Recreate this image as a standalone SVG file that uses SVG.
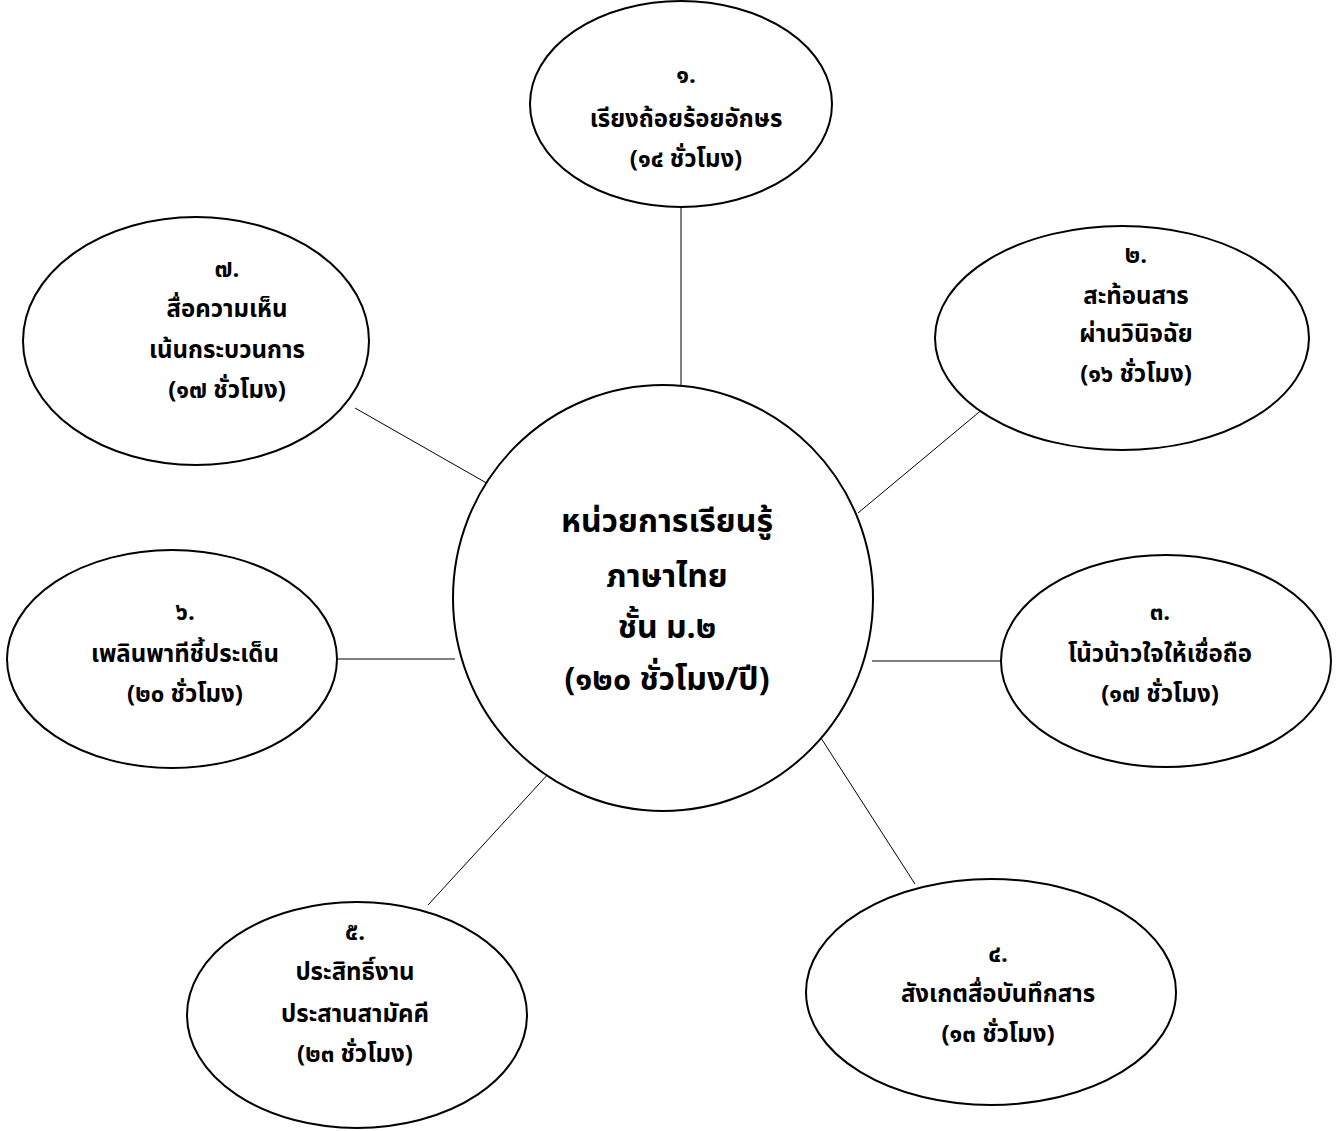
<svg xmlns="http://www.w3.org/2000/svg" width="1337" height="1131" viewBox="0 0 1337 1131">
<style>
.n{fill:#fff;stroke:#000;stroke-width:2}
.c line{stroke:#000;stroke-width:1}
text{font-family:"Noto Sans Thai","Noto Sans","DejaVu Sans",sans-serif;font-weight:bold;font-size:24px;fill:#000;text-anchor:middle}
.big{font-size:32px}
</style>
<rect width="1337" height="1131" fill="#fff"/>
<g id="connectors" class="c">
<line x1="681" y1="207" x2="681" y2="405"/>
<line x1="990" y1="403" x2="858" y2="513"/>
<line x1="872" y1="661" x2="1001" y2="661"/>
<line x1="821" y1="738" x2="915" y2="884"/>
<line x1="550" y1="772" x2="428" y2="905"/>
<line x1="337" y1="659" x2="455" y2="659"/>
<line x1="355" y1="408" x2="490" y2="485"/>
</g>
<g id="center">
<ellipse class="n" cx="663" cy="598" rx="210" ry="213"/>
<text class="big" x="667" y="532">หน่วยการเรียนรู้</text>
<text class="big" x="667" y="587">ภาษาไทย</text>
<text class="big" x="667" y="638">ชั้น ม.๒</text>
<text class="big" x="667" y="690">(๑๒๐ ชั่วโมง/ปี)</text>
</g>
<g id="node1">
<ellipse class="n" cx="681" cy="104" rx="151" ry="103"/>
<text x="686" y="83">๑.</text>
<text x="686" y="127">เรียงถ้อยร้อยอักษร</text>
<text x="686" y="167">(๑๔ ชั่วโมง)</text>
</g>
<g id="node2">
<ellipse class="n" cx="1122" cy="338" rx="187" ry="112"/>
<text x="1136" y="263">๒.</text>
<text x="1136" y="304">สะท้อนสาร</text>
<text x="1136" y="342">ผ่านวินิจฉัย</text>
<text x="1136" y="382">(๑๖ ชั่วโมง)</text>
</g>
<g id="node3">
<ellipse class="n" cx="1166" cy="661" rx="165" ry="106"/>
<text x="1160" y="620">๓.</text>
<text x="1160" y="662">โน้วน้าวใจให้เชื่อถือ</text>
<text x="1160" y="702">(๑๗ ชั่วโมง)</text>
</g>
<g id="node4">
<ellipse class="n" cx="991" cy="992" rx="185" ry="113"/>
<text x="998" y="962">๔.</text>
<text x="998" y="1002">สังเกตสื่อบันทึกสาร</text>
<text x="998" y="1042">(๑๓ ชั่วโมง)</text>
</g>
<g id="node5">
<ellipse class="n" cx="357" cy="1015" rx="170" ry="113"/>
<text x="355" y="940">๕.</text>
<text x="355" y="980">ประสิทธิ์งาน</text>
<text x="355" y="1022">ประสานสามัคคี</text>
<text x="355" y="1062">(๒๓ ชั่วโมง)</text>
</g>
<g id="node6">
<ellipse class="n" cx="172" cy="659" rx="165" ry="109"/>
<text x="185" y="620">๖.</text>
<text x="185" y="662">เพลินพาทีชี้ประเด็น</text>
<text x="185" y="702">(๒๐ ชั่วโมง)</text>
</g>
<g id="node7">
<ellipse class="n" cx="196" cy="341" rx="173" ry="124"/>
<text x="227" y="277">๗.</text>
<text x="227" y="317">สื่อความเห็น</text>
<text x="227" y="358">เน้นกระบวนการ</text>
<text x="227" y="398">(๑๗ ชั่วโมง)</text>
</g>
</svg>
